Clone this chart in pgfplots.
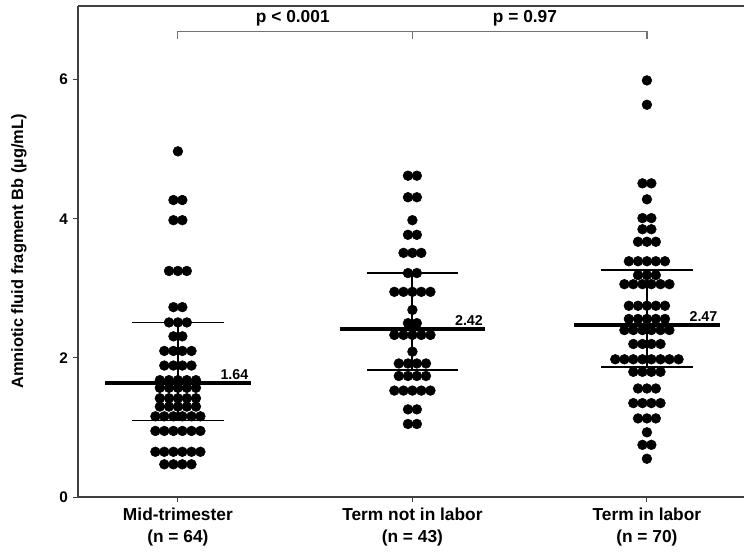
\documentclass[border=0pt]{standalone}
\usepackage{fontspec}
\setmainfont{Liberation Sans}
\setsansfont{Liberation Sans}
\usepackage{pgfplots}
\pgfplotsset{compat=1.18}

\begin{document}
\begin{tikzpicture}
\begin{axis}[
    scale only axis,
    width=499.5pt, height=368.25pt,
    xmin=-0.426, xmax=2.414,
    ymin=0, ymax=7.06,
    axis x line*=bottom, axis y line*=left,
    axis line style={black!75, line width=0.8pt},
    xtick={0,1,2},
    xticklabels={{Mid-trimester\\(n = 64)},{Term not in labor\\(n = 43)},{Term in labor\\(n = 70)}},
    xticklabel style={align=center, inner sep=1pt, yshift=-3pt, font=\bfseries\fontsize{13}{16.5}\selectfont},
    ytick={0,2,4,6},
    tick align=outside,
    major tick length=4pt,
    tick style={black!75, line width=0.7pt},
    yticklabel style={font=\bfseries\fontsize{11.5}{12}\selectfont},
    /pgf/number format/assume math mode=true,
    ylabel={Amniotic fluid fragment Bb (µg/mL)},
    ylabel style={font=\bfseries\fontsize{12.3}{14}\selectfont, at={(axis description cs:-0.07,0.5)}, anchor=south},
    clip=false,
]
\coordinate (sw) at (rel axis cs:0,0);
\coordinate (ne) at (rel axis cs:1,1);
\draw[black!75, line width=0.8pt] (rel axis cs:0,1) -- (rel axis cs:1,1);

% Mid-trimester
\addplot[only marks, mark=*, mark size=3.65pt, black] coordinates {
(0,4.97)
(-0.019,4.27) (0.019,4.27)
(-0.019,3.98) (0.019,3.98)
(-0.038,3.25) (0,3.25) (0.038,3.25)
(-0.019,2.73) (0.019,2.73)
(-0.038,2.51) (0,2.51) (0.038,2.51)
(-0.019,2.31) (0.019,2.31)
(-0.058,2.10) (-0.019,2.10) (0.019,2.10) (0.058,2.10)
(-0.058,1.89) (-0.019,1.89) (0.019,1.89) (0.058,1.89)
(-0.077,1.68) (-0.038,1.68) (0,1.68) (0.038,1.68) (0.077,1.68)
(-0.077,1.57) (-0.038,1.57) (0,1.57) (0.038,1.57) (0.077,1.57)
(-0.077,1.42) (-0.038,1.42) (0,1.42) (0.038,1.42) (0.077,1.42)
(-0.077,1.30) (-0.038,1.30) (0,1.30) (0.038,1.30) (0.077,1.30)
(-0.096,1.16) (-0.058,1.16) (-0.019,1.16) (0.019,1.16) (0.058,1.16) (0.096,1.16)
(-0.096,0.95) (-0.058,0.95) (-0.019,0.95) (0.019,0.95) (0.058,0.95) (0.096,0.95)
(-0.096,0.65) (-0.058,0.65) (-0.019,0.65) (0.019,0.65) (0.058,0.65) (0.096,0.65)
(-0.058,0.47) (-0.019,0.47) (0.019,0.47) (0.058,0.47)
};

% Term not in labor
\addplot[only marks, mark=*, mark size=3.65pt, black] coordinates {
(0.981,4.62) (1.019,4.62)
(0.981,4.31) (1.019,4.31)
(1,3.98)
(0.981,3.77) (1.019,3.77)
(0.962,3.51) (1,3.51) (1.038,3.51)
(0.981,3.22) (1.019,3.22)
(0.923,2.95) (0.962,2.95) (1,2.95) (1.038,2.95) (1.077,2.95)
(1,2.69)
(0.981,2.50) (1.019,2.50)
(0.923,2.33) (0.962,2.33) (1,2.33) (1.038,2.33) (1.077,2.33)
(1,2.09)
(0.942,1.92) (0.981,1.92) (1.019,1.92) (1.058,1.92)
(0.942,1.74) (0.981,1.74) (1.019,1.74) (1.058,1.74)
(0.923,1.53) (0.962,1.53) (1,1.53) (1.038,1.53) (1.077,1.53)
(0.981,1.26) (1.019,1.26)
(0.981,1.05) (1.019,1.05)
};

% Term in labor
\addplot[only marks, mark=*, mark size=3.65pt, black] coordinates {
(2,5.99)
(2,5.64)
(1.981,4.51) (2.019,4.51)
(2,4.28)
(1.981,4.01) (2.019,4.01)
(1.981,3.85) (2.019,3.85)
(1.962,3.67) (2,3.67) (2.038,3.67)
(1.923,3.39) (1.962,3.39) (2,3.39) (2.038,3.39) (2.077,3.39)
(1.962,3.19) (2,3.19) (2.038,3.19)
(1.904,3.06) (1.942,3.06) (1.981,3.06) (2.019,3.06) (2.058,3.06) (2.096,3.06)
(1.923,2.75) (1.962,2.75) (2,2.75) (2.038,2.75) (2.077,2.75)
(1.923,2.56) (1.962,2.56) (2,2.56) (2.038,2.56) (2.077,2.56)
(1.904,2.40) (1.942,2.40) (1.981,2.40) (2.019,2.40) (2.058,2.40) (2.096,2.40)
(1.942,2.20) (1.981,2.20) (2.019,2.20) (2.058,2.20)
(1.865,1.98) (1.904,1.98) (1.942,1.98) (1.981,1.98) (2.019,1.98) (2.058,1.98) (2.096,1.98) (2.135,1.98)
(1.942,1.80) (1.981,1.80) (2.019,1.80) (2.058,1.80)
(1.962,1.56) (2,1.56) (2.038,1.56)
(1.942,1.35) (1.981,1.35) (2.019,1.35) (2.058,1.35)
(1.962,1.13) (2,1.13) (2.038,1.13)
(2,0.93)
(1.981,0.75) (2.019,0.75)
(2,0.55)
};

% medians and interquartile ranges
\addplot[black, line width=3pt] coordinates {(-0.31,1.64) (0.31,1.64)};
\addplot[black, line width=1.4pt] coordinates {(-0.195,2.51) (0.195,2.51)};
\addplot[black, line width=1.4pt] coordinates {(-0.195,1.10) (0.195,1.10)};
\addplot[black, line width=1.4pt] coordinates {(0,1.10) (0,2.51)};

\addplot[black, line width=3pt] coordinates {(0.69,2.42) (1.31,2.42)};
\addplot[black, line width=1.4pt] coordinates {(0.805,3.22) (1.195,3.22)};
\addplot[black, line width=1.4pt] coordinates {(0.805,1.82) (1.195,1.82)};
\addplot[black, line width=1.4pt] coordinates {(1,1.82) (1,3.22)};

\addplot[black, line width=3pt] coordinates {(1.69,2.47) (2.31,2.47)};
\addplot[black, line width=1.4pt] coordinates {(1.805,3.26) (2.195,3.26)};
\addplot[black, line width=1.4pt] coordinates {(1.805,1.87) (2.195,1.87)};
\addplot[black, line width=1.4pt] coordinates {(2,1.87) (2,3.26)};

\node[anchor=south east, inner sep=1.5pt, font=\bfseries\fontsize{10.7}{12}\selectfont] at (axis cs:0.31,1.66) {1.64};
\node[anchor=south east, inner sep=1.5pt, font=\bfseries\fontsize{10.7}{12}\selectfont] at (axis cs:1.31,2.44) {2.42};
\node[anchor=south east, inner sep=1.5pt, font=\bfseries\fontsize{10.7}{12}\selectfont] at (axis cs:2.31,2.49) {2.47};

% significance bracket
\addplot[black!55, line width=0.9pt] coordinates {(0,6.58) (0,6.69) (2,6.69) (2,6.58)};
\addplot[black!55, line width=0.9pt] coordinates {(1,6.69) (1,6.58)};
\node[font=\bfseries\fontsize{13}{14}\selectfont] at (axis cs:0.49,6.88) {p < 0.001};
\node[font=\bfseries\fontsize{13}{14}\selectfont] at (axis cs:1.48,6.88) {p = 0.97};
\end{axis}
\pgfresetboundingbox
\useasboundingbox ([xshift=-58.5pt,yshift=-40.5pt]sw) rectangle ([yshift=4.5pt]ne);
\end{tikzpicture}
\end{document}
